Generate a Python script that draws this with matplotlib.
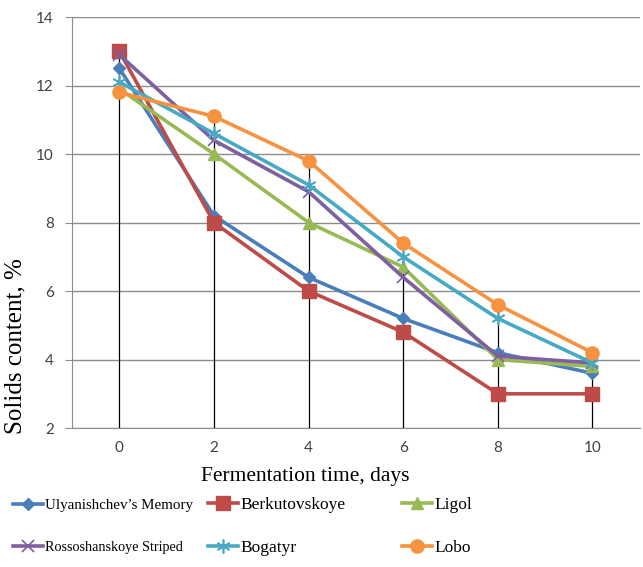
import numpy as np
import matplotlib.pyplot as plt

days = [0, 2, 4, 6, 8, 10]
names = ["Ulyanishchev\u2019s Memory", "Berkutovskoye", "Ligol",
         "Rossoshanskoye Striped", "Bogatyr", "Lobo"]
ulyanishchev = [12.5, 8.2, 6.4, 5.2, 4.2, 3.6]
berkutovskoye = [13.0, 8.0, 6.0, 4.8, 3.0, 3.0]
ligol = [11.9, 10.0, 8.0, 6.7, 4.0, 3.8]
rossoshanskoye = [12.9, 10.4, 8.9, 6.4, 4.1, 3.9]
bogatyr = [12.1, 10.6, 9.1, 7.0, 5.2, 3.9]
lobo = [11.8, 11.1, 9.8, 7.4, 5.6, 4.2]

series = [ulyanishchev, berkutovskoye, ligol, rossoshanskoye, bogatyr, lobo]
colors = ['#4A7EBB', '#BE4B48', '#98B954', '#7D60A0', '#46AAC5', '#F69240']
markers = ['D', 's', '^', 'x', (6, 2, 0), 'o']
msizes = [6.5, 10, 9, 9, 10, 9.5]
label_sizes = [10.8, 12.5, 12.5, 10.2, 12.5, 12.5]

fig = plt.figure(figsize=(6.43, 5.67), dpi=100)
ax = fig.add_axes([0.112, 0.245, 0.883, 0.725])

# drop lines from the highest point down to the axis
tops = np.max(np.array(series), axis=0)
ax.vlines(days, 2, tops, color='black', lw=0.9, zorder=2)

lines = []
for s, c, m, ms, n in zip(series, colors, markers, msizes, names):
    mew = 1.2 if m in ('x', (6, 2, 0)) else 1
    l, = ax.plot(days, s, color=c, lw=2.6, marker=m, markersize=ms,
                 markeredgewidth=mew, label=n, zorder=3)
    lines.append(l)

ax.set_xlim(-1, 11)
ax.set_ylim(2, 14)
ax.set_xticks(days)
ax.set_yticks(range(2, 15, 2))
ax.grid(axis='y', color='#8C8C8C', lw=1)
ax.set_axisbelow(True)
for sp in ['top', 'right']:
    ax.spines[sp].set_visible(False)
ax.spines['left'].set_color('#8C8C8C')
ax.spines['bottom'].set_color('#8C8C8C')
for lab in ax.get_xticklabels() + ax.get_yticklabels():
    lab.set_family('Lato')
ax.tick_params(axis='x', length=0, labelsize=11, colors='#404040', pad=9)
ax.tick_params(axis='y', length=5, color='#8C8C8C', labelsize=11,
               labelcolor='#404040', pad=8)

ax.set_xlabel('Fermentation time, days', family='Liberation Serif',
              fontsize=15.5)
ax.xaxis.set_label_coords(0.41, -0.095)
ax.set_ylabel('Solids content, %', family='Liberation Serif', fontsize=18)
ax.yaxis.set_label_coords(-0.08, 0.2)

# legend: one entry per slot, like the Excel layout
xs = [0.02, 0.323, 0.625]
ys = [0.109, 0.034]
slots = [(0, 0), (1, 0), (2, 0), (0, 1), (1, 1), (2, 1)]
for i, (cx, ry) in enumerate(slots):
    fs = label_sizes[i]
    leg = fig.legend([lines[i]], [names[i]], loc='center left',
                     bbox_to_anchor=(xs[cx], ys[ry]), frameon=False,
                     prop={'family': 'Liberation Serif', 'size': fs},
                     handlelength=30 / (fs * 100 / 72), handletextpad=0.15,
                     borderpad=0, borderaxespad=0)

fig.savefig('out.png', dpi=100)
